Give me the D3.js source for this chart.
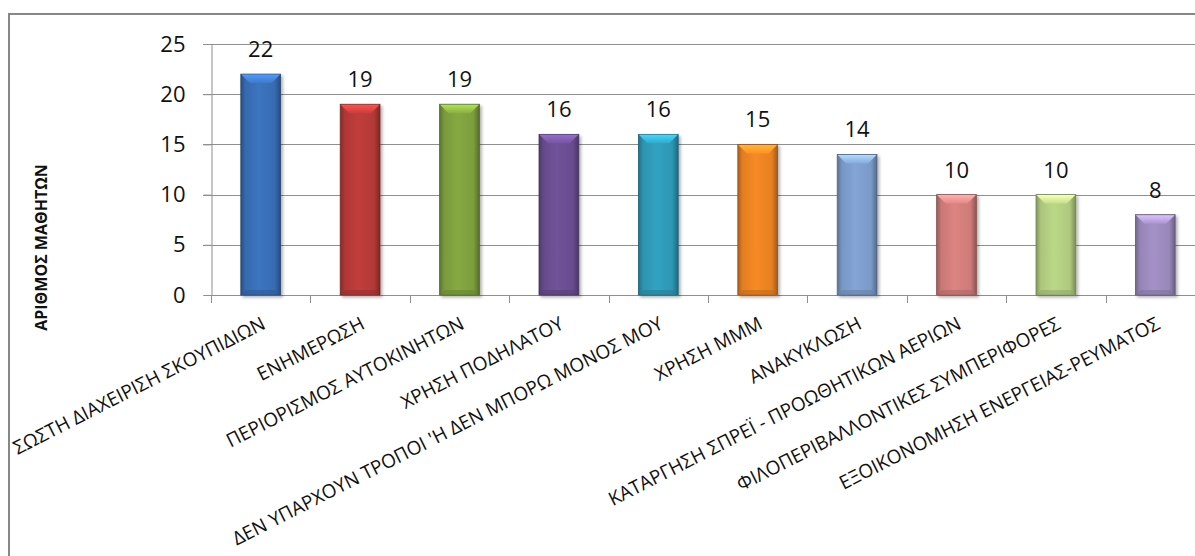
<!DOCTYPE html>
<html>
<head>
<meta charset="utf-8">
<script src="https://cdn.jsdelivr.net/npm/d3@7"></script>
<style>
html,body{margin:0;padding:0;background:#fff;}
svg{display:block;}
text{font-family:"Open Sans","Noto Sans",sans-serif;fill:#111;}
</style>
</head>
<body>
<svg id="chart" width="1195" height="556"></svg>
<script>
const categories = [
  "ΣΩΣΤΗ ΔΙΑΧΕΙΡΙΣΗ ΣΚΟΥΠΙΔΙΩΝ",
  "ΕΝΗΜΕΡΩΣΗ",
  "ΠΕΡΙΟΡΙΣΜΟΣ ΑΥΤΟΚΙΝΗΤΩΝ",
  "ΧΡΗΣΗ ΠΟΔΗΛΑΤΟΥ",
  "ΔΕΝ ΥΠΑΡΧΟΥΝ ΤΡΟΠΟΙ 'Η ΔΕΝ ΜΠΟΡΩ ΜΟΝΟΣ ΜΟΥ",
  "ΧΡΗΣΗ ΜΜΜ",
  "ΑΝΑΚΥΚΛΩΣΗ",
  "ΚΑΤΑΡΓΗΣΗ ΣΠΡΕΪ - ΠΡΟΩΘΗΤΙΚΩΝ ΑΕΡΙΩΝ",
  "ΦΙΛΟΠΕΡΙΒΑΛΛΟΝΤΙΚΕΣ ΣΥΜΠΕΡΙΦΟΡΕΣ",
  "ΕΞΟΙΚΟΝΟΜΗΣΗ ΕΝΕΡΓΕΙΑΣ-ΡΕΥΜΑΤΟΣ"
];
const values = [22, 19, 19, 16, 16, 15, 14, 10, 10, 8];
const yTicks = [0, 5, 10, 15, 20, 25];
const yTitle = "ΑΡΙΘΜΟΣ ΜΑΘΗΤΩΝ";
const barColors = ["#3a70b8","#b93b38","#80a33f","#6c4f94","#2f9cba","#ee8524","#7e9fce","#d47f7d","#b4d083","#9e8cc0"];

const svg = d3.select("#chart");
const plot = {left: 211, right: 1205, top: 44, bottom: 295};

const x = d3.scaleBand().domain(categories).range([plot.left, plot.right]).paddingInner(0.6).paddingOuter(0.3);
const xb = d3.scaleLinear().domain([0, categories.length]).range([plot.left, plot.right]);
const y = d3.scaleLinear().domain([0, 25]).range([plot.bottom, plot.top]);

const defs = svg.append("defs");
const flt = defs.append("filter").attr("id","shadow").attr("x","-30%").attr("y","-10%").attr("width","160%").attr("height","130%");
flt.append("feDropShadow").attr("dx",2).attr("dy",2).attr("stdDeviation",1.6).attr("flood-color","#000").attr("flood-opacity",0.3);

barColors.forEach((c,i)=>{
  const base = d3.color(c);
  const g = defs.append("linearGradient").attr("id","gb"+i).attr("x1","0").attr("x2","1").attr("y1","0").attr("y2","0");
  g.append("stop").attr("offset","0").attr("stop-color", base.darker(0.9));
  g.append("stop").attr("offset","0.12").attr("stop-color", base.darker(0.15));
  g.append("stop").attr("offset","0.45").attr("stop-color", base.brighter(0.1));
  g.append("stop").attr("offset","0.85").attr("stop-color", base.darker(0.1));
  g.append("stop").attr("offset","1").attr("stop-color", base.darker(1.1));
  const t = defs.append("linearGradient").attr("id","gt"+i).attr("x1","0").attr("x2","0").attr("y1","0").attr("y2","1");
  t.append("stop").attr("offset","0").attr("stop-color", base.brighter(0.9));
  t.append("stop").attr("offset","1").attr("stop-color", base.brighter(0.2));
});

// outer border (chart area, cropped at right/bottom)
svg.append("rect").attr("x",9).attr("y",14).attr("width",1220).attr("height",600)
  .attr("fill","none").attr("stroke","#878787").attr("stroke-width",2);

// gridlines
svg.append("g").selectAll("line").data(yTicks.filter(d=>d>0)).join("line")
  .attr("x1", plot.left-8).attr("x2", plot.right)
  .attr("y1", d=>Math.round(y(d))+0.5).attr("y2", d=>Math.round(y(d))+0.5)
  .attr("stroke","#8f8f8f").attr("stroke-width",1);

// y axis
const yAxis = svg.append("g").attr("transform",`translate(${plot.left+0.5},0)`)
  .call(d3.axisLeft(y).tickValues(yTicks).tickSize(8).tickPadding(18).tickFormat(d3.format("d")));
yAxis.select(".domain").attr("stroke","#8f8f8f");
yAxis.selectAll(".tick line").attr("stroke","#8f8f8f");
yAxis.selectAll(".tick text").attr("font-size",22).attr("font-family","Open Sans").attr("fill","#111");

// x axis line and ticks at band boundaries
svg.append("line").attr("x1",plot.left).attr("x2",plot.right).attr("y1",plot.bottom+0.5).attr("y2",plot.bottom+0.5).attr("stroke","#8f8f8f");
svg.append("g").selectAll("line").data(d3.range(categories.length+1)).join("line")
  .attr("x1", d=>Math.round(xb(d))+0.5).attr("x2", d=>Math.round(xb(d))+0.5)
  .attr("y1", plot.bottom).attr("y2", plot.bottom+8)
  .attr("stroke","#8f8f8f");

// bars
const bars = svg.append("g").selectAll("g").data(values).join("g").attr("filter","url(#shadow)");
bars.append("rect")
  .attr("x",(d,i)=>x(categories[i])).attr("width",x.bandwidth())
  .attr("y",d=>y(d)).attr("height",d=>y(0)-y(d))
  .attr("fill",(d,i)=>`url(#gb${i})`)
  .attr("stroke",(d,i)=>d3.color(barColors[i]).darker(1.3)).attr("stroke-width",0.8);
bars.append("path")
  .attr("d",(d,i)=>{
    const x0 = x(categories[i]), w = x.bandwidth(), t = y(d), b = 9;
    return `M${x0+0.5},${t+0.5}L${x0+w-0.5},${t+0.5}L${x0+w-b},${t+b}L${x0+b},${t+b}Z`;
  })
  .attr("fill",(d,i)=>`url(#gt${i})`);
bars.append("path")
  .attr("d",(d,i)=>{
    const x0 = x(categories[i]), w = x.bandwidth(), bt = y(0), b = 5;
    return `M${x0+0.5},${bt}L${x0+w-0.5},${bt}L${x0+w-b},${bt-b}L${x0+b},${bt-b}Z`;
  })
  .attr("fill",(d,i)=>d3.color(barColors[i]).darker(0.6)).attr("opacity",0.6);

// data labels
svg.append("g").selectAll("text").data(values).join("text")
  .attr("x",(d,i)=>x(categories[i])+x.bandwidth()/2)
  .attr("y",d=>y(d)-17)
  .attr("text-anchor","middle").attr("font-size",22)
  .text(d=>d);

// x labels
svg.append("g").selectAll("text").data(categories).join("text")
  .attr("transform",(d,i)=>`translate(${x(d)+x.bandwidth()/2+6},${plot.bottom+33}) rotate(-27)`)
  .attr("text-anchor","end").attr("font-size",19)
  .text(d=>d);

// y title
svg.append("text")
  .attr("transform",`translate(47,${(plot.top+plot.bottom)/2+78}) rotate(-90)`)
  .attr("text-anchor","middle").attr("font-size",16).attr("font-weight","bold")
  .text(yTitle);
</script>
</body>
</html>
